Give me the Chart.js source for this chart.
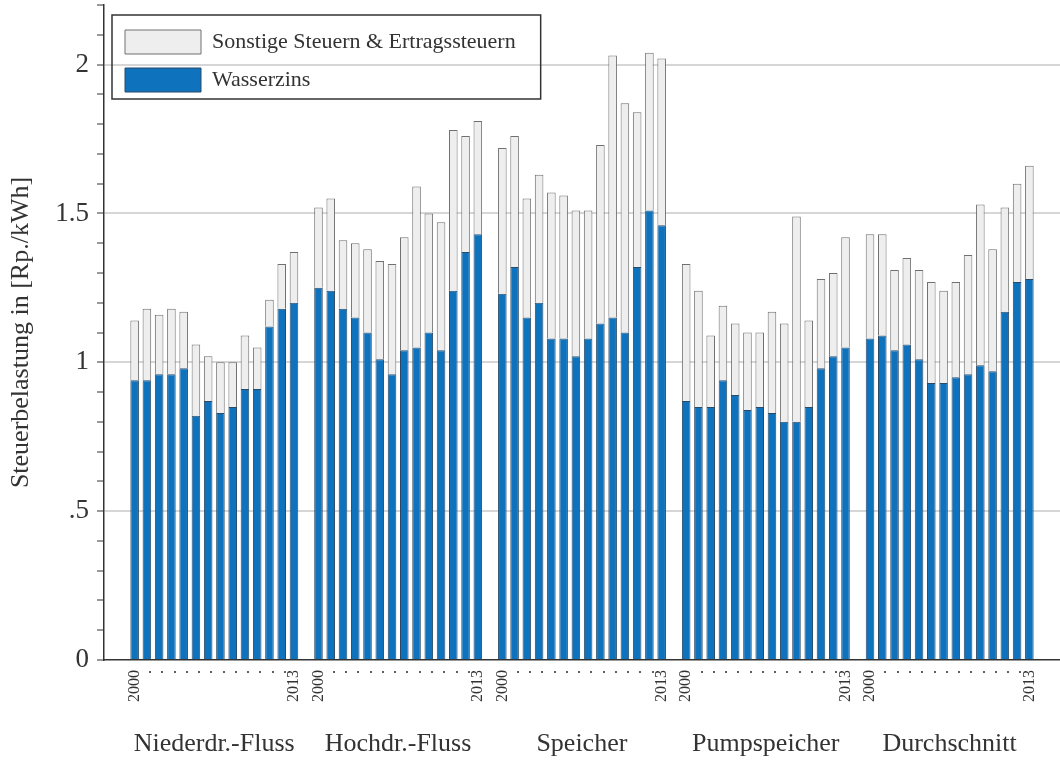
<!DOCTYPE html>
<html>
<head>
<meta charset="utf-8">
<script src="https://cdn.jsdelivr.net/npm/chart.js@4"></script>
<style>
body{margin:0;background:#fff;}
#wrap{width:1060px;height:767px;}
</style>
</head>
<body>
<div id="wrap"><canvas id="myChart"></canvas></div>
<script>
let years = [2000,2001,2002,2003,2004,2005,2006,2007,2008,2009,2010,2011,2012,2013];
let groups = ['Niederdr.-Fluss','Hochdr.-Fluss','Speicher','Pumpspeicher','Durchschnitt'];

// Wasserzins (unterer Teil)
let wzNieder   = [0.94,0.94,0.96,0.96,0.98,0.82,0.87,0.83,0.85,0.91,0.91,1.12,1.18,1.20];
let wzHoch     = [1.25,1.24,1.18,1.15,1.10,1.01,0.96,1.04,1.05,1.10,1.04,1.24,1.37,1.43];
let wzSpeicher = [1.23,1.32,1.15,1.20,1.08,1.08,1.02,1.08,1.13,1.15,1.10,1.32,1.51,1.46];
let wzPump     = [0.87,0.85,0.85,0.94,0.89,0.84,0.85,0.83,0.80,0.80,0.85,0.98,1.02,1.05];
let wzSchnitt  = [1.08,1.09,1.04,1.06,1.01,0.93,0.93,0.95,0.96,0.99,0.97,1.17,1.27,1.28];

// Sonstige Steuern & Ertragssteuern (oberer Teil)
let soNieder   = [0.20,0.24,0.20,0.22,0.19,0.24,0.15,0.17,0.15,0.18,0.14,0.09,0.15,0.17];
let soHoch     = [0.27,0.31,0.23,0.25,0.28,0.33,0.37,0.38,0.54,0.40,0.43,0.54,0.39,0.38];
let soSpeicher = [0.49,0.44,0.40,0.43,0.49,0.48,0.49,0.43,0.60,0.88,0.77,0.52,0.53,0.56];
let soPump     = [0.46,0.39,0.24,0.25,0.24,0.26,0.25,0.34,0.33,0.69,0.29,0.30,0.28,0.37];
let soSchnitt  = [0.35,0.34,0.27,0.29,0.30,0.34,0.31,0.32,0.40,0.54,0.41,0.35,0.33,0.38];

let yMax = 2.2;

const serif = 'Liberation Serif';
const wz = [wzNieder, wzHoch, wzSpeicher, wzPump, wzSchnitt];
const so = [soNieder, soHoch, soSpeicher, soPump, soSchnitt];

// Kategorien mit Lücken zwischen den Gruppen
let labels = ['', ''];
let wasserzins = [null, null];
let sonstige = [null, null];
let groupAt = {};   // Index der Kategorie, unter der der Gruppenname steht
groups.forEach((g, gi) => {
  if (gi > 0) { labels.push(''); wasserzins.push(null); sonstige.push(null); }
  groupAt[labels.length + 6] = g;
  years.forEach((y, yi) => {
    labels.push(String(y));
    wasserzins.push(wz[gi][yi]);
    sonstige.push(so[gi][yi]);
  });
});
labels.push('', ''); wasserzins.push(null, null); sonstige.push(null, null);

const noPad = s => { s.paddingLeft = 0; s.paddingRight = 0; s.paddingTop = 0; s.paddingBottom = 0; };

const legendFrame = {
  id: 'legendFrame',
  beforeDraw(chart) {
    const lg = chart.legend;
    lg.left = chart.chartArea.left + 7;
    lg.top = chart.chartArea.top + 11;
  },
  afterDraw(chart) {
    const lg = chart.legend;
    const c = chart.ctx;
    const o = lg.options.labels;
    c.save();
    c.font = o.font.size + 'px ' + serif;
    let maxW = 0;
    lg.legendItems.forEach(it => { maxW = Math.max(maxW, c.measureText(it.text).width); });
    const w = o.padding + o.boxWidth + o.font.size / 2 + maxW + 24;
    const h = o.padding + 2 * (o.boxHeight + o.padding) - 6;
    c.strokeStyle = '#333';
    c.lineWidth = 1.5;
    c.strokeRect(lg.left + 1, lg.top - 1, w, h);
    c.restore();
  }
};

let ctx = document.getElementById('myChart').getContext('2d');
let myChart = new Chart(ctx, {
  type: 'bar',
  data: {
    labels: labels,
    datasets: [
      {
        label: 'Wasserzins',
        data: wasserzins,
        backgroundColor: '#0f72bd',
        borderColor: '#2a4a66',
        borderWidth: 1,
        xAxisID: 'x',
        barPercentage: 0.7,
        categoryPercentage: 1
      },
      {
        label: 'Sonstige Steuern & Ertragssteuern',
        data: sonstige,
        backgroundColor: '#eeeeee',
        borderColor: '#707070',
        borderWidth: 1,
        xAxisID: 'x',
        barPercentage: 0.7,
        categoryPercentage: 1
      }
    ]
  },
  options: {
    responsive: true,
    maintainAspectRatio: false,
    animation: false,
    layout: { padding: { top: 5, right: 0, left: 0, bottom: 0 } },
    plugins: {
      tooltip: { enabled: false },
      legend: {
        position: 'chartArea',
        align: 'start',
        reverse: true,
        labels: {
          boxWidth: 76,
          boxHeight: 24,
          padding: 14,
          color: '#333',
          font: { family: serif, size: 22 }
        }
      }
    },
    scales: {
      x: {
        stacked: true,
        grid: { drawOnChartArea: false, drawTicks: false, color: 'rgba(0,0,0,0)' },
        border: { display: true, color: '#333', width: 1.5 },
        ticks: {
          autoSkip: false,
          minRotation: 90,
          maxRotation: 90,
          padding: 10,
          color: '#333',
          font: { family: serif, size: 16 },
          callback: function(v, i) {
            const l = labels[i];
            if (l === '2000' || l === '2013') return l;
            return l ? '.' : '';
          }
        },
        afterFit: s => { s.height = 55; noPad(s); }
      },
      x2: {
        type: 'category',
        position: 'bottom',
        weight: 1,
        grid: { display: false, drawTicks: false },
        border: { display: false },
        ticks: {
          autoSkip: false,
          minRotation: 0,
          maxRotation: 0,
          padding: 14,
          labelOffset: 6,
          color: '#333',
          font: { family: serif, size: 26 },
          callback: (v, i) => groupAt[i] || ''
        },
        afterFit: s => { s.height = 52; noPad(s); }
      },
      y: {
        stacked: true,
        min: 0,
        max: yMax,
        grid: {
          color: c => {
            const r = Math.round(c.tick.value * 10);
            return (r > 0 && r % 5 === 0) ? '#d6d6d6' : 'rgba(0,0,0,0)';
          },
          lineWidth: 2,
          tickColor: '#333',
          tickLength: 7,
          tickWidth: 1
        },
        border: { color: '#333', width: 1.5 },
        ticks: {
          stepSize: 0.1,
          maxTicksLimit: 40,
          autoSkip: false,
          padding: 8,
          color: '#333',
          font: { family: serif, size: 27 },
          callback: v => {
            const r = Math.round(v * 10);
            if (r % 5 !== 0) return '';
            if (r === 0) return '0';
            const s = String(r / 10);
            return s.charAt(0) === '0' ? s.slice(1) : s;
          }
        },
        title: {
          display: true,
          text: 'Steuerbelastung in [Rp./kWh]',
          color: '#333',
          font: { family: serif, size: 26 },
          padding: { top: 6, bottom: 0 }
        },
        afterFit: s => { s.width = 104; noPad(s); }
      }
    }
  },
  plugins: [legendFrame]
});
</script>
</body>
</html>
